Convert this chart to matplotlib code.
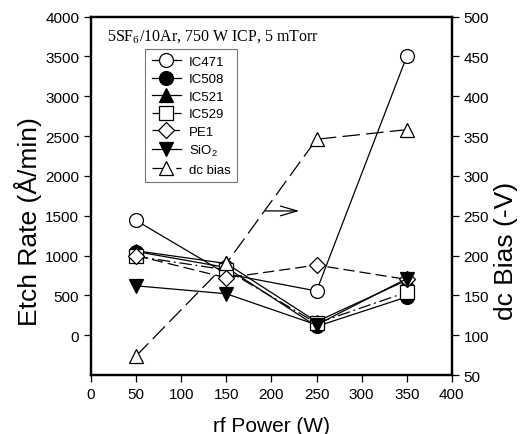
import matplotlib
matplotlib.use('Agg')
import matplotlib.pyplot as plt

power = [50, 150, 250, 350]

ic471 = [1440, 770, 555, 3500]
ic508 = [1050, 850, 110, 480]
ic521 = [1060, 900, 170, 690]
ic529 = [990, 820, 150, 540]
pe1 = [1000, 720, 880, 700]
sio2 = [620, 520, 130, 710]
dc_bias = [74, 190, 346, 358]

plt.rcParams['font.family'] = ['Liberation Sans', 'DejaVu Sans']

fig = plt.figure(figsize=(5.23, 4.35), dpi=100)
ax = fig.add_axes([0.174, 0.1356, 0.69, 0.824])
ax2 = ax.twinx()

mk = dict(markersize=10, markeredgecolor='black', linewidth=0.9, color='black', markeredgewidth=0.9)
h1, = ax.plot(power, ic471, marker='o', markerfacecolor='white', linestyle='-', label='IC471', **mk)
h2, = ax.plot(power, ic508, marker='o', markerfacecolor='black', linestyle='-', label='IC508', **mk)
h3, = ax.plot(power, ic521, marker='^', markerfacecolor='black', linestyle='-', label='IC521', **mk)
h4, = ax.plot(power, ic529, marker='s', markerfacecolor='white', linestyle=(0, (10, 3, 1.5, 3)), label='IC529', **mk)
h5, = ax.plot(power, pe1, marker='D', markerfacecolor='white', linestyle=(0, (9, 4)), label='PE1',
              **{**mk, 'markersize': 8.5})
h6, = ax.plot(power, sio2, marker='v', markerfacecolor='black', linestyle='-', label='SiO$_{\\mathregular{2}}$', **mk)
h7, = ax2.plot(power, dc_bias, marker='^', markerfacecolor='white', linestyle=(0, (14, 5)), label='dc bias', **mk)

ax.set_xlim(0, 400)
ax.set_ylim(-500, 4000)
ax2.set_ylim(50, 500)
ax.set_xticks(range(0, 401, 50))
ax.set_yticks(range(0, 4001, 500))
ax2.set_yticks(range(50, 501, 50))

for a in (ax, ax2):
    a.tick_params(labelsize=11, length=5, width=0.9, direction='out')
    for s in a.spines.values():
        s.set_linewidth(1.6)

ax.set_xlabel('rf Power (W)', fontsize=15, labelpad=11)
ax.set_ylabel('Etch Rate (Å/min)', fontsize=19)
ax2.set_ylabel('dc Bias (-V)', fontsize=19)
# labels in the original sit below the axes centre
ax.yaxis.set_label_coords(-0.136, 0.43)
ax2.yaxis.set_label_coords(1.117, 0.35)

ax.text(0.045, 0.97, '5SF$_{\\mathregular{6}}$/10Ar, 750 W ICP, 5 mTorr', transform=ax.transAxes,
        ha='left', va='top', fontsize=11.5, family=['Liberation Serif', 'DejaVu Serif'])

ax.annotate('', xy=(234, 1560), xytext=(190, 1560),
            arrowprops=dict(arrowstyle='->,head_length=1.2,head_width=0.35', color='black', lw=0.9))

leg = ax.legend(handles=[h1, h2, h3, h4, h5, h6, h7], loc='upper left', bbox_to_anchor=(0.15, 0.91),
                fontsize=9.5, frameon=True, fancybox=False, handlelength=2.2, handletextpad=0.6,
                labelspacing=0.4, borderpad=0.5, borderaxespad=0)
leg.get_frame().set_edgecolor('#555555')
leg.get_frame().set_linewidth(0.8)

fig.savefig('out.png', dpi=100)
